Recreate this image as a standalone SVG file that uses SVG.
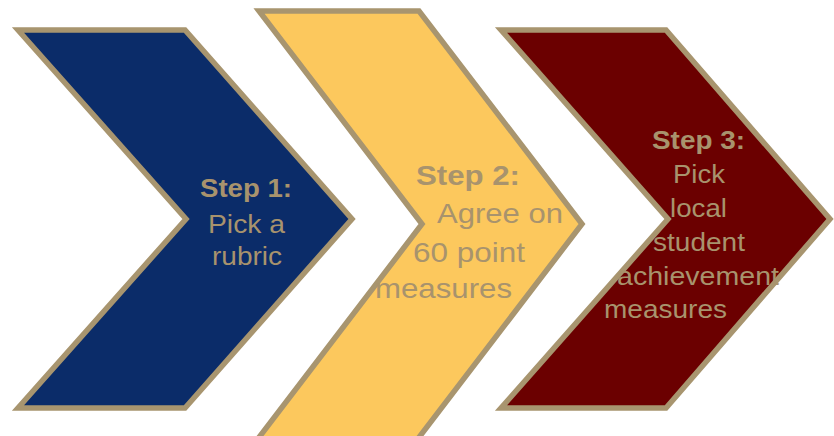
<svg xmlns="http://www.w3.org/2000/svg" width="834" height="436" viewBox="0 0 834 436">
<style>
.chev{stroke:#a8956f;stroke-width:5.5;stroke-linejoin:miter}
.t{font-family:"Liberation Sans",Arial,sans-serif;fill:#a8936d;font-size:26px}
.b{font-weight:bold}
.y{font-size:28px}
</style>
<rect width="834" height="436" fill="#ffffff"/>
<g id="step1">
<polygon class="chev" fill="#0b2c69" points="18,30 185,30 352,219 185,408 18,408 186,219"/>
<text class="t b" x="200" y="197" textLength="92" lengthAdjust="spacingAndGlyphs">Step 1:</text>
<text class="t" x="208" y="233" textLength="77" lengthAdjust="spacingAndGlyphs">Pick a</text>
<text class="t" x="212" y="265" textLength="70" lengthAdjust="spacingAndGlyphs">rubric</text>
</g>
<g id="step2">
<polygon class="chev" fill="#fcc85d" points="259,11 419,11 582,224 417,440 257,440 422,224"/>
<text class="t b y" x="416" y="185" textLength="104" lengthAdjust="spacingAndGlyphs">Step 2:</text>
<text class="t y" x="437" y="223" textLength="126" lengthAdjust="spacingAndGlyphs">Agree on</text>
<text class="t y" x="413" y="262" textLength="112" lengthAdjust="spacingAndGlyphs">60 point</text>
<text class="t y" x="375" y="298" textLength="137" lengthAdjust="spacingAndGlyphs">measures</text>
</g>
<g id="step3">
<polygon class="chev" fill="#6b0000" points="501,30 666,30 830,219 666,408 501,408 668,219"/>
<text class="t b" x="652" y="149" textLength="93" lengthAdjust="spacingAndGlyphs">Step 3:</text>
<text class="t" x="673" y="183" textLength="52" lengthAdjust="spacingAndGlyphs">Pick</text>
<text class="t" x="670" y="217" textLength="57" lengthAdjust="spacingAndGlyphs">local</text>
<text class="t" x="653" y="251" textLength="92" lengthAdjust="spacingAndGlyphs">student</text>
<text class="t" x="617" y="285" textLength="162" lengthAdjust="spacingAndGlyphs">achievement</text>
<text class="t" x="604" y="318" textLength="123" lengthAdjust="spacingAndGlyphs">measures</text>
</g>
<g id="connectors"></g>
</svg>
